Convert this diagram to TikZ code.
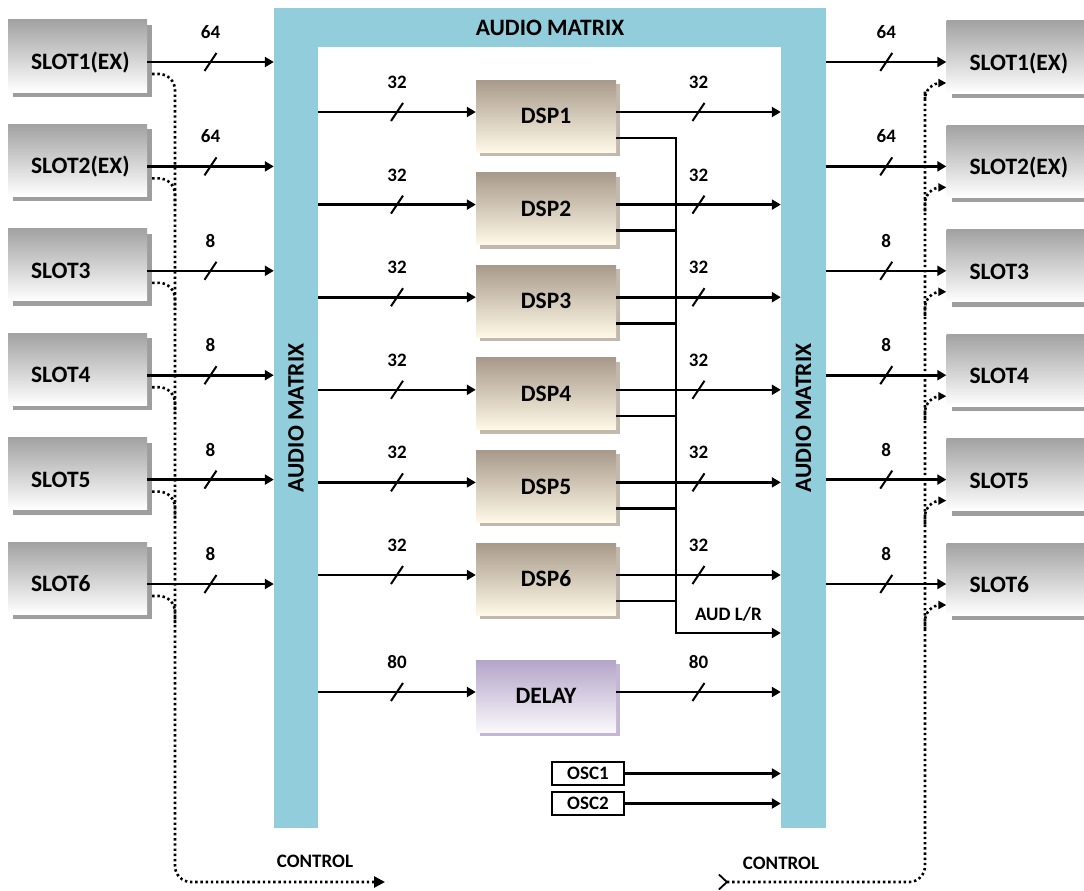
\documentclass[tikz,border=0pt]{standalone}
\usepackage{fontspec}
\setmainfont{Carlito}
\usetikzlibrary{arrows.meta,positioning,shadows,calc,decorations.markings}

\definecolor{mtxblue}{HTML}{92CDDC}
\definecolor{slottop}{HTML}{A2A2A2}
\definecolor{dsptop}{HTML}{A89A8A}
\definecolor{dspmid}{HTML}{F1E4CE}
\definecolor{dspbot}{HTML}{FFF9E8}
\definecolor{dlytop}{HTML}{B4A5C8}
\definecolor{dlymid}{HTML}{E4DDEC}
\definecolor{dlybot}{HTML}{FAF8FC}

\begin{document}
\begin{tikzpicture}[x=1pt, y=-1pt,
  big/.style={font=\fontsize{23.5pt}{23.5pt}\selectfont\bfseries},
  small/.style={font=\fontsize{19pt}{19pt}\selectfont\bfseries},
  bar/.style={fill=mtxblue, inner sep=0pt},
  slot/.style={big, top color=slottop, middle color=black!7, bottom color=white,
    minimum width=139pt, minimum height=72pt, text width=93pt, inner xsep=23pt, align=left,
    text height=27pt, text depth=0pt,
    drop shadow={shadow xshift=5pt, shadow yshift=-5pt, fill=black!38, opacity=1}},
  dsp/.style={big, top color=dsptop, middle color=dspmid, bottom color=dspbot,
    minimum width=140pt, minimum height=72pt,
    drop shadow={shadow xshift=4pt, shadow yshift=-4pt, fill=dsptop!70, opacity=1}},
  dly/.style={dsp, top color=dlytop, middle color=dlymid, bottom color=dlybot,
    drop shadow={shadow xshift=4pt, shadow yshift=-4pt, fill=dlytop!80, opacity=1}},
  osc/.style={small, draw, line width=1.4pt, fill=white, minimum width=72pt, minimum height=23pt, inner sep=0pt},
  line/.style={line width=2.6pt},
  sig/.style={line, -{Triangle[length=9pt,width=10pt]}},
  slash/.style={postaction={decorate}, decoration={markings,
    mark=at position #1 with {\draw[-, solid, line width=2pt] (-6pt,-9pt) -- (6pt,9pt);}}},
  slash/.default=0.5,
  num/.style={small, inner sep=0pt, above=22pt},
  ctrl/.style={line width=2.6pt, dash pattern=on 2.4pt off 2.8pt, rounded corners=16pt}]

  \useasboundingbox (0,0) rectangle (1084,891);

  % audio matrix frame
  \node[bar, minimum width=552pt, minimum height=39pt, big] (mtop) at (550,27.5) {AUDIO MATRIX};
  \node[bar, minimum width=44pt, minimum height=820pt] (lbar) at (296,418) {};
  \node[bar, minimum width=45pt, minimum height=820pt] (rbar) at (803.5,418) {};
  \node[big, rotate=90] (lbartxt) at (lbar) {AUDIO MATRIX};
  \node[big, rotate=90] (rbartxt) at (rbar) {AUDIO MATRIX};

  % slots
  \foreach \i/\t in {1/SLOT1(EX),2/SLOT2(EX),3/SLOT3,4/SLOT4,5/SLOT5,6/SLOT6}{
    \node[slot] (lslot\i) at (77.5,{56+(\i-1)*104.4}) {\t};
    \node[slot] (rslot\i) at (1016,{57+(\i-1)*104.4}) {\t};
  }

  % dsp blocks
  \foreach \i in {1,...,6}
    \node[dsp] (dsp\i) at (546,{116+(\i-1)*92.6}) {DSP\i};
  \node[dly] (delay) at (546,696) {DELAY};
  \node[osc] (osc1) at (588,773.5) {OSC1};
  \node[osc] (osc2) at (588,803.5) {OSC2};

  % slot signals
  \foreach \i/\n in {1/64,2/64,3/8,4/8,5/8,6/8}{
    \draw[sig, slash] ([yshift=-6pt]lslot\i.east) -- ([yshift=-6pt]lslot\i.east -| lbar.west)
      node[midway, num] {\n};
    \draw[sig, slash] ([yshift=-5pt]rslot\i.west -| rbar.east) -- ([yshift=-5pt]rslot\i.west)
      node[midway, num] {\n};
  }

  % dsp signals
  \foreach \i in {1,...,6}{
    \draw[sig, slash] ([yshift=4pt]dsp\i.west -| lbar.east) -- ([yshift=4pt]dsp\i.west)
      node[midway, num] {32};
    \draw[sig, slash] ([yshift=4pt]dsp\i.east) -- ([yshift=4pt]dsp\i.east -| rbar.west)
      node[midway, num] {32};
  }
  \draw[sig, slash] ([yshift=4pt]delay.west -| lbar.east) -- ([yshift=4pt]delay.west)
    node[midway, num] {80};
  \draw[sig, slash] ([yshift=4pt]delay.east) -- ([yshift=4pt]delay.east -| rbar.west)
    node[midway, num] {80};

  % aud l/r bus
  \coordinate (audlr) at (676,633);
  \draw[sig] ([yshift=-22pt]dsp1.east) -| (audlr) -- (audlr -| rbar.west)
    node[midway, small, inner sep=0pt, above=10pt] (audtxt) {AUD L/R};
  \foreach \i in {2,...,6}
    \draw[line] ([yshift=-22pt]dsp\i.east) -- ([yshift=-22pt]dsp\i.east -| audlr);

  % oscillators
  \draw[sig] (osc1.east) -- (osc1.east -| rbar.west);
  \draw[sig] (osc2.east) -- (osc2.east -| rbar.west);

  % control
  \coordinate (lbus) at (175,0);
  \coordinate (lctl) at (385,882);
  \coordinate (rbus) at (925,0);
  \coordinate (rctl) at (718,882);
  \draw[ctrl, -{Triangle[length=11pt,width=11pt]}] ([xshift=5pt,yshift=-18pt]lslot1.east) -| (lbus |- lctl) -- (lctl);
  \foreach \i in {2,...,6}
    \draw[ctrl] ([xshift=5pt,yshift=-18pt]lslot\i.east) -| ([yshift=-45pt]lbus |- lslot\i.east);
  \draw[ctrl, {Straight Barb[reversed,length=8pt,width=15pt,line width=1.8pt]}-{Triangle[length=8pt,width=8pt]}]
    (rctl) -| ([yshift=-50pt]rbus |- rslot1.west) |- ([yshift=-26pt]rslot1.west);
  \foreach \i in {2,...,6}
    \draw[ctrl, -{Triangle[length=8pt,width=8pt]}] ([yshift=-50pt]rbus |- rslot\i.west) |- ([yshift=-26pt]rslot\i.west);
  \node[small] (lctltxt) at (315,861) {CONTROL};
  \node[small] (rctltxt) at (781,863) {CONTROL};
\end{tikzpicture}
\end{document}
